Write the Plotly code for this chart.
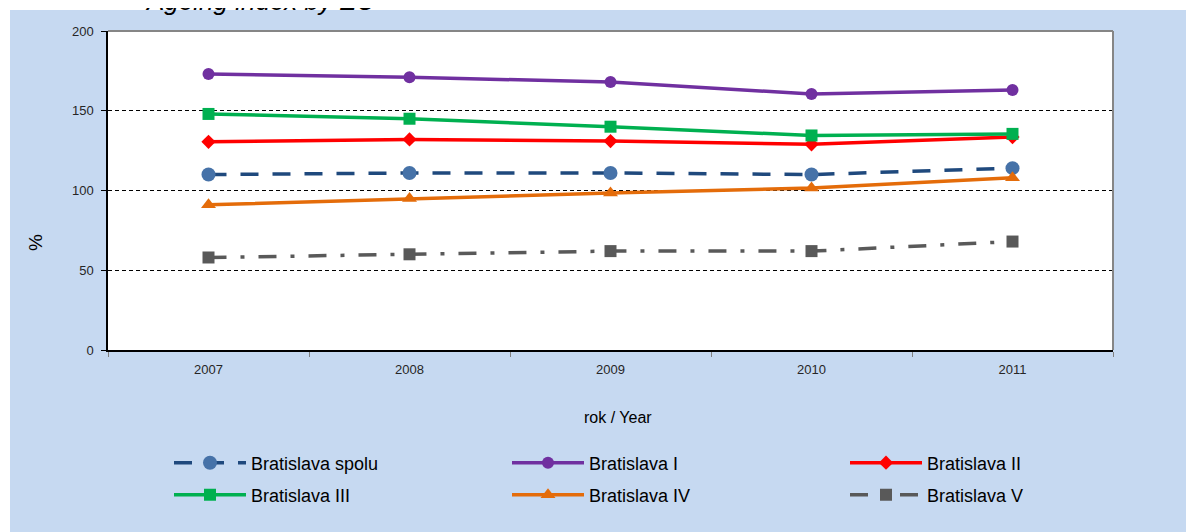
import plotly.graph_objects as go

years = ["2007", "2008", "2009", "2010", "2011"]
spolu = [110, 111, 111, 110, 114]
bratislava_1 = [173, 171, 168, 160.5, 163]
bratislava_2 = [130.5, 132, 131, 129, 133.5]
bratislava_3 = [148, 145, 140, 134.5, 135.5]
bratislava_4 = [91, 95, 98.5, 101.5, 108]
bratislava_5 = [58, 60, 62, 62, 68]
y_ticks = [0, 50, 100, 150, 200]

FONT = "Liberation Sans, Arial, sans-serif"
BLUE_BG = "#C6D9F1"

# figure is placed at (8, 8) by the page's body margin
W, H = 1186, 524
L, R, T, B = 100, 81, 23, 182
PW, PH = W - L - R, H - T - B


def px_x(x):  # screen px -> paper x
    return (x - 8 - L) / PW


def px_y(y):  # screen px -> paper y
    return (H - B - (y - 8)) / PH


fig = go.Figure()

series = [
    dict(name="Bratislava spolu", y=spolu, line=dict(color="#1F497D", width=3.5, dash="18px,14px"),
         marker=dict(symbol="circle", size=14, color="#4672A8")),
    dict(name="Bratislava I", y=bratislava_1, line=dict(color="#7030A0", width=3.5),
         marker=dict(symbol="circle", size=12, color="#7030A0")),
    dict(name="Bratislava II", y=bratislava_2, line=dict(color="#FF0000", width=3.5),
         marker=dict(symbol="diamond", size=11, color="#FF0000")),
    dict(name="Bratislava III", y=bratislava_3, line=dict(color="#00B050", width=3.5),
         marker=dict(symbol="square", size=12, color="#00B050")),
    dict(name="Bratislava IV", y=bratislava_4, line=dict(color="#E46C0A", width=3.5),
         marker=dict(symbol="triangle-up", size=13, color="#E46C0A")),
    dict(name="Bratislava V", y=bratislava_5, line=dict(color="#595959", width=3.5, dash="18px,14px,4px,14px"),
         marker=dict(symbol="square", size=12, color="#595959")),
]

legend_cols = [169, 507, 845]
legend_rows = [463, 495]
legend_names = ["legend", "legend2", "legend3", "legend4", "legend5", "legend6"]
legend_layouts = {}
for i, s in enumerate(series):
    lname = legend_names[i]
    fig.add_trace(go.Scatter(x=years, y=s["y"], name=s["name"], mode="lines+markers",
                             line=s["line"], marker=s["marker"], legend=lname))
    legend_layouts[lname] = dict(
        x=px_x(legend_cols[i % 3]), y=px_y(legend_rows[i // 3]),
        xanchor="left", yanchor="middle", orientation="h",
        font=dict(family=FONT, size=18, color="#000000"),
        bgcolor="rgba(0,0,0,0)", itemwidth=72, itemclick=False,
    )

fig.update_layout(
    width=W, height=H,
    margin=dict(l=L, r=R, t=T, b=B),
    paper_bgcolor=BLUE_BG,
    plot_bgcolor="#FFFFFF",
    font=dict(family=FONT, color="#262626"),
    showlegend=True,
    **legend_layouts,
    xaxis=dict(type="category", range=[-0.5, 4.5], showgrid=False, zeroline=False,
               showline=True, linecolor="#000000", linewidth=1.5,
               ticks="outside", tickson="boundaries", ticklen=5, tickcolor="#808080",
               ticklabelstandoff=7,
               tickfont=dict(family=FONT, size=13, color="#262626")),
    yaxis=dict(range=[0, 200], tickvals=y_ticks, showgrid=True, gridcolor="#000000",
               griddash="4px,3px", gridwidth=1, zeroline=False,
               showline=True, linecolor="#000000", linewidth=1.5,
               ticks="outside", ticklen=5, tickcolor="#000000",
               ticklabelstandoff=5,
               tickfont=dict(family=FONT, size=13, color="#262626")),
    shapes=[
        dict(type="rect", xref="paper", yref="paper", x0=px_x(0), x1=px_x(1300), y0=px_y(10), y1=px_y(-20),
             fillcolor="#FFFFFF", line=dict(width=0), layer="below"),
        dict(type="rect", xref="paper", yref="paper", x0=px_x(-20), x1=px_x(10), y0=px_y(600), y1=px_y(-20),
             fillcolor="#FFFFFF", line=dict(width=0), layer="below"),
        dict(type="line", xref="x domain", yref="y domain", x0=0, x1=1, y0=1, y1=1,
             line=dict(color="#868686", width=2)),
        dict(type="line", xref="x domain", yref="y domain", x0=1, x1=1, y0=0, y1=1,
             line=dict(color="#868686", width=2)),
    ],
    annotations=[
        dict(text="Ageing index by EU", xref="paper", yref="paper", x=px_x(143), y=1,
             xanchor="left", yanchor="middle", yshift=30, showarrow=False,
             font=dict(family=FONT, size=26, color="#000000", style="italic")),
        dict(text="rok / Year", xref="paper", yref="paper", x=px_x(618), y=px_y(417),
             xanchor="center", yanchor="middle", showarrow=False,
             font=dict(family=FONT, size=16, color="#000000")),
        dict(text="%", xref="paper", yref="paper", x=px_x(35), y=px_y(243),
             xanchor="center", yanchor="middle", textangle=-90, showarrow=False,
             font=dict(family=FONT, size=19, color="#000000")),
    ],
)

fig.write_html("out.html")
